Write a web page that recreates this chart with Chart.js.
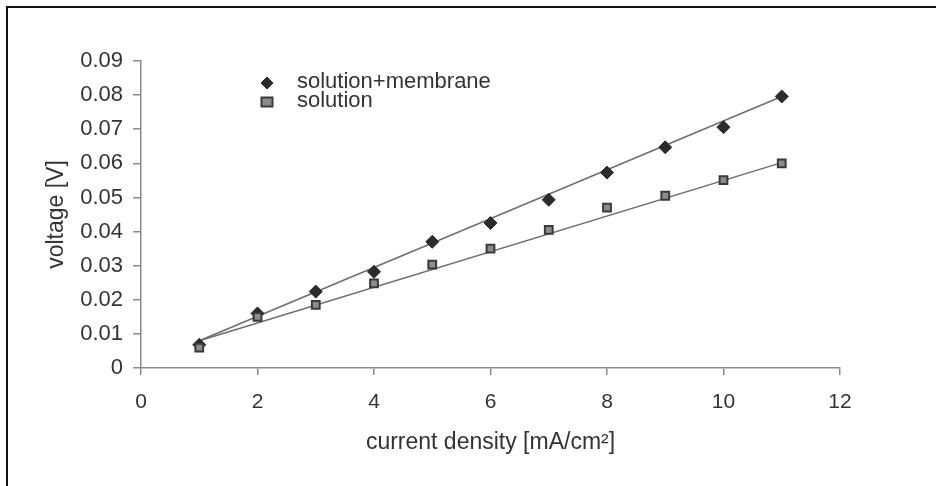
<!DOCTYPE html>
<html>
<head>
<meta charset="utf-8">
<title>voltage vs current density</title>
<script src="https://cdn.jsdelivr.net/npm/chart.js@4/dist/chart.umd.min.js"></script>
<style>
    html, body { margin: 0; padding: 0; background: #fff; }
    .frame {
        position: absolute;
        left: 6px; top: 6px; width: 930px; height: 480px;
        border-top: 2px solid #111;
        border-left: 2px solid #111;
    }
    .chart { position: absolute; left: 0; top: 0; width: 936px; height: 486px; }
</style>
</head>
<body>
<div class="frame"></div>
<div class="chart">
    <canvas id="chart" width="936" height="486"></canvas>
</div>
<script>
const currentDensity = [1, 2, 3, 4, 5, 6, 7, 8, 9, 10, 11];
const membraneVoltage = [0.0068, 0.0160, 0.0224, 0.0282, 0.0370, 0.0425, 0.0493, 0.0573, 0.0647, 0.0706, 0.0796];
const solutionVoltage = [0.0060, 0.0150, 0.0185, 0.0248, 0.0303, 0.0350, 0.0405, 0.0470, 0.0505, 0.0551, 0.0600];
const seriesNames = ['solution+membrane', 'solution'];

// straight fit lines, end points at x = 1 and x = 11
const trendX = [1, 11];
const membraneTrend = [0.0080, 0.0796];
const solutionTrend = [0.0080, 0.0602];

const xTicks = [0, 2, 4, 6, 8, 10, 12];
const yTicks = [0, 0.01, 0.02, 0.03, 0.04, 0.05, 0.06, 0.07, 0.08, 0.09];

const textColor = '#333';
const axisColor = '#8a8a8a';
const lineColor = '#6e6e6e';
const fontFamily = '"Liberation Sans", Arial, sans-serif';

function toPoints(xs, ys) {
    return xs.map(function (x, i) {
        return { x: x, y: ys[i] };
    });
}

// legend drawn inside the plot, upper left
const innerLegend = {
    id: 'innerLegend',
    afterDraw(chart) {
        const { ctx, chartArea } = chart;
        const x0 = chartArea.left + 126;
        const y0 = chartArea.top + 22;
        const rowGap = 19;
        ctx.save();
        chart.data.datasets.filter(function (ds) { return ds.inLegend; }).forEach(function (ds, i) {
            const cx = x0;
            const cy = y0 + i * rowGap;
            ctx.fillStyle = ds.pointBackgroundColor;
            ctx.strokeStyle = ds.pointBorderColor;
            ctx.lineWidth = ds.pointBorderWidth;
            ctx.beginPath();
            if (ds.pointStyle === 'rectRot') {
                const r = 6;
                ctx.moveTo(cx, cy - r);
                ctx.lineTo(cx + r, cy);
                ctx.lineTo(cx, cy + r);
                ctx.lineTo(cx - r, cy);
                ctx.closePath();
            } else {
                ctx.rect(cx - 5.5, cy - 4.5, 11, 9);
            }
            ctx.fill();
            ctx.stroke();
            ctx.fillStyle = textColor;
            ctx.font = '22px ' + fontFamily;
            ctx.textBaseline = 'middle';
            ctx.textAlign = 'left';
            ctx.fillText(ds.label, cx + 30, cy - 1);
        });
        ctx.restore();
    }
};

const data = {
    datasets: [
        {
            label: seriesNames[0],
            inLegend: true,
            data: toPoints(currentDensity, membraneVoltage),
            showLine: false,
            pointStyle: 'rectRot',
            pointRadius: 6.5,
            pointBackgroundColor: '#2b2b2b',
            pointBorderColor: '#2b2b2b',
            pointBorderWidth: 1,
            order: 1,
        },
        {
            label: seriesNames[1],
            inLegend: true,
            data: toPoints(currentDensity, solutionVoltage),
            showLine: false,
            pointStyle: 'rect',
            pointRadius: 5.5,
            pointBackgroundColor: '#8c8c8c',
            pointBorderColor: '#3a3a3a',
            pointBorderWidth: 2,
            order: 0,
        },
        {
            label: seriesNames[0] + ' fit',
            data: toPoints(trendX, membraneTrend),
            showLine: true,
            borderColor: lineColor,
            borderWidth: 1.5,
            pointRadius: 0,
            order: 2,
        },
        {
            label: seriesNames[1] + ' fit',
            data: toPoints(trendX, solutionTrend),
            showLine: true,
            borderColor: lineColor,
            borderWidth: 1.5,
            pointRadius: 0,
            order: 2,
        },
    ],
};

const config = {
    type: 'scatter',
    data: data,
    options: {
        responsive: false,
        animation: false,
        layout: { padding: { left: 0, right: 96, top: 61, bottom: 0 } },
        plugins: {
            legend: { display: false },
            tooltip: { enabled: false },
        },
        scales: {
            x: {
                type: 'linear',
                min: 0,
                max: 12,
                afterBuildTicks(scale) {
                    scale.ticks = xTicks.map(function (v) { return { value: v }; });
                },
                afterFit(scale) { scale.height = 118; },
                border: { color: axisColor, width: 1.5 },
                grid: {
                    drawOnChartArea: false,
                    color: axisColor,
                    lineWidth: 1.5,
                    tickLength: 7,
                },
                ticks: {
                    color: textColor,
                    font: { family: fontFamily, size: 21 },
                    padding: 15,
                    maxRotation: 0,
                },
                title: {
                    display: true,
                    text: 'current density [mA/cm²]',
                    color: textColor,
                    font: { family: fontFamily, size: 23 },
                    padding: { top: 0, bottom: 30 },
                },
            },
            y: {
                type: 'linear',
                min: 0,
                max: 0.09,
                afterBuildTicks(scale) {
                    scale.ticks = yTicks.map(function (v) { return { value: v }; });
                },
                afterFit(scale) { scale.width = 141; },
                border: { color: axisColor, width: 1.5 },
                grid: {
                    drawOnChartArea: false,
                    color: axisColor,
                    lineWidth: 1.5,
                    tickLength: 8,
                },
                ticks: {
                    color: textColor,
                    font: { family: fontFamily, size: 22 },
                    padding: 10,
                    callback: function (v) { return String(+v.toFixed(2)); },
                },
                title: {
                    display: true,
                    text: 'voltage [V]',
                    color: textColor,
                    font: { family: fontFamily, size: 23 },
                    padding: { top: 43, bottom: 0 },
                },
            },
        },
    },
    plugins: [innerLegend],
};

const chart = new Chart(document.getElementById('chart'), config);
</script>
</body>
</html>
